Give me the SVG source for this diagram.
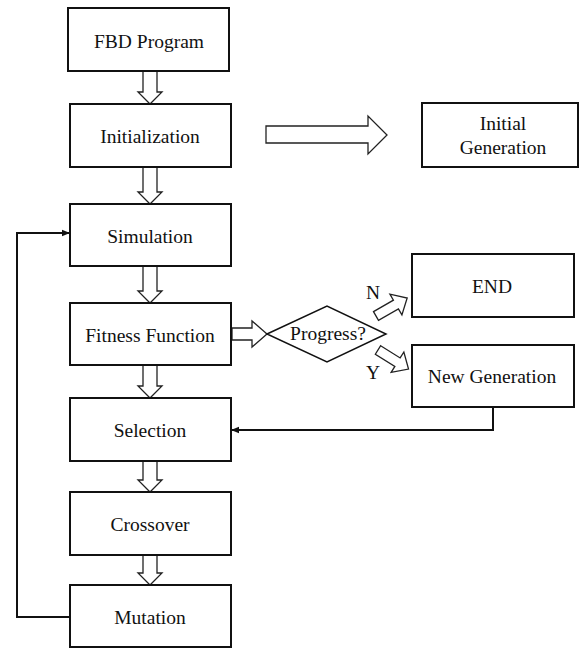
<svg xmlns="http://www.w3.org/2000/svg" width="584" height="648" viewBox="0 0 584 648">
<defs>
<style>
.box{fill:#fff;stroke:#111;stroke-width:2}
.ha{fill:#fff;stroke:#222;stroke-width:1.3;stroke-linejoin:miter}
.line{fill:none;stroke:#111;stroke-width:2}
</style>
<marker id="ah" viewBox="0 0 10 10" refX="10" refY="5" markerWidth="4" markerHeight="4" orient="auto" markerUnits="strokeWidth">
<path d="M0,1 L10,5 L0,9 Z" fill="#111"/>
</marker>
</defs>
<rect width="584" height="648" fill="#fff"/>
<g font-family="Liberation Serif, Times New Roman, serif" font-size="19.5" fill="#111" text-anchor="middle">
<g id="connectors">
<path class="ha" d="M143,71 V92 H138 L150,104 L162,92 H157 V71 Z"/>
<path class="ha" d="M143,167 V192 H138 L150,204 L162,192 H157 V167 Z"/>
<path class="ha" d="M143,266 V291 H138 L150,303 L162,291 H157 V266 Z"/>
<path class="ha" d="M143,365 V386 H138 L150,398 L162,386 H157 V365 Z"/>
<path class="ha" d="M143,461 V480 H138 L150,492 L162,480 H157 V461 Z"/>
<path class="ha" d="M143,555 V573 H138 L150,585 L162,573 H157 V555 Z"/>
<path class="ha" d="M266,126 H368 V116 L387,135 L368,154 V143 H266 Z"/>
<path class="ha" d="M232,328 H252 V321 L267,334 L252,347 V340 H232 Z"/>
<path class="ha" transform="translate(376,316) rotate(-30)" d="M0,-5 H23 V-12 L36,0 L23,12 V5 H0 Z"/>
<path class="ha" transform="translate(378,350) rotate(32)" d="M0,-5 H23 V-12 L36,0 L23,12 V5 H0 Z"/>
<path class="line" d="M70,617 H17 V233 H70" marker-end="url(#ah)"/>
<path class="line" d="M493,407 V430 H231" marker-end="url(#ah)"/>
<text x="373" y="299" font-family="Liberation Serif, serif">N</text>
<text x="373" y="379" font-family="Liberation Serif, serif">Y</text>
</g>
<g id="fbd"><rect class="box" x="68" y="8" width="161" height="63"/><text x="149" y="48" font-family="Liberation Serif, serif">FBD Program</text></g>
<g id="init"><rect class="box" x="70" y="104" width="161" height="63"/><text x="150" y="143" font-family="Liberation Serif, serif">Initialization</text></g>
<g id="initgen"><rect class="box" x="422" y="103" width="156" height="64"/><text x="503" y="130" font-family="Liberation Serif, serif">Initial</text><text x="503" y="154" font-family="Liberation Serif, serif">Generation</text></g>
<g id="sim"><rect class="box" x="70" y="204" width="161" height="62"/><text x="150" y="243" font-family="Liberation Serif, serif">Simulation</text></g>
<g id="fit"><rect class="box" x="70" y="303" width="161" height="62"/><text x="150" y="342" font-family="Liberation Serif, serif">Fitness Function</text></g>
<g id="progress"><path fill="#fff" stroke="#111" stroke-width="1.5" d="M267,334 L327,306 L386,334 L327,362 Z"/><text x="328" y="340" font-family="Liberation Serif, serif">Progress?</text></g>
<g id="end"><rect class="box" x="412" y="254" width="162" height="63"/><text x="492" y="293" font-family="Liberation Serif, serif">END</text></g>
<g id="newgen"><rect class="box" x="412" y="345" width="162" height="62"/><text x="492" y="383" font-family="Liberation Serif, serif">New Generation</text></g>
<g id="sel"><rect class="box" x="70" y="398" width="161" height="63"/><text x="150" y="437" font-family="Liberation Serif, serif">Selection</text></g>
<g id="cross"><rect class="box" x="70" y="492" width="161" height="63"/><text x="150" y="531" font-family="Liberation Serif, serif">Crossover</text></g>
<g id="mut"><rect class="box" x="70" y="585" width="161" height="62"/><text x="150" y="624" font-family="Liberation Serif, serif">Mutation</text></g>
</g>
</svg>
